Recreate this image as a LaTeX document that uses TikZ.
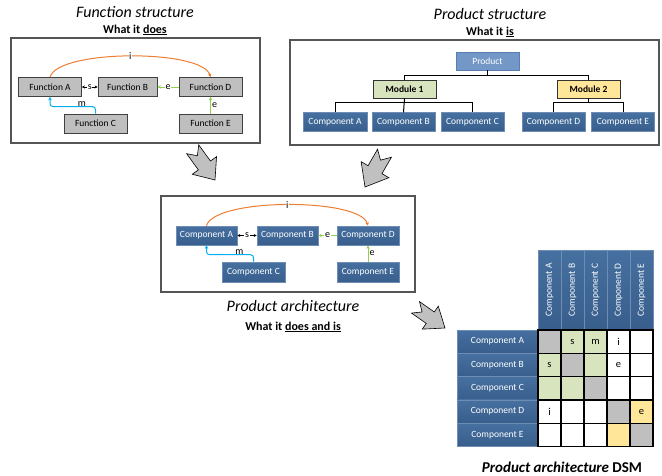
\documentclass[tikz,border=0pt]{standalone}
\usepackage{fontspec}
\setmainfont{Carlito}
\usetikzlibrary{arrows.meta,calc}
\definecolor{orangeL}{RGB}{237,125,49}
\definecolor{greenL}{RGB}{146,208,80}
\definecolor{blueL}{RGB}{0,176,240}
\definecolor{compBlue}{RGB}{56,94,140}
\definecolor{compTop}{RGB}{70,112,160}
\definecolor{compEdge}{RGB}{110,140,180}
\definecolor{prodBlue}{RGB}{115,152,200}
\definecolor{prodEdge}{RGB}{90,125,175}
\definecolor{modGreen}{RGB}{215,228,189}
\definecolor{modYellow}{RGB}{255,230,153}
\definecolor{cellGray}{RGB}{191,191,191}
\definecolor{frameGray}{RGB}{85,85,85}
\definecolor{arrGray}{RGB}{192,192,192}
\newcommand{\notchedarrow}[7]{%
  \draw[blockarrow, shift={(#1,#2)}, rotate=#3]
    (0pt,0pt) -- (-#5pt,#6pt) -- (-#5pt,#7pt) -- (-#4pt,#7pt)
    -- ({(-#4+8)*1pt},0pt) -- (-#4pt,-#7pt) -- (-#5pt,-#7pt) -- (-#5pt,-#6pt) -- cycle;}
\begin{document}
\begin{tikzpicture}[x=1pt,y=-1pt,
  every node/.style={inner sep=0pt},
  boxfont/.style={font=\fontsize{9.5}{11}\selectfont},
  tip/.style={-{Stealth[length=3.5pt,width=3.5pt]}},
  fbox/.style={boxfont, draw=black!75, fill=cellGray, line width=0.8pt, minimum width=63pt, minimum height=19pt},
  cbox/.style={boxfont, draw=compEdge, top color=compTop, bottom color=compBlue, line width=0.6pt, minimum width=62pt, minimum height=18.5pt, text=white},
  mbox/.style={font=\fontsize{9.5}{11}\selectfont\bfseries, draw=black!80, line width=0.8pt, minimum width=63pt, minimum height=18pt},
  pbox/.style={boxfont, draw=prodEdge, fill=prodBlue, line width=0.6pt, minimum width=63pt, minimum height=18pt, text=white},
  frame/.style={draw=frameGray, line width=1.2pt},
  labfont/.style={font=\fontsize{10}{11}\selectfont},
  lab/.style={labfont, fill=white, inner sep=0.6pt},
  iline/.style={draw=orangeL, line width=1pt},
  eline/.style={draw=greenL, line width=1pt},
  mline/.style={draw=blueL, line width=1pt, rounded corners=3pt},
  sline/.style={draw=black, line width=0.8pt},
  tree/.style={draw=black, line width=1pt},
  title/.style={font=\fontsize{16}{19}\selectfont\itshape},
  subtitle/.style={font=\fontsize{12}{14}\selectfont\bfseries},
  blockarrow/.style={draw=black, fill=arrGray, line width=0.6pt, line join=miter},
  head/.style={boxfont, draw=compEdge, top color=compTop, bottom color=compBlue, line width=0.6pt, text=white},
  cell/.style={draw=black, line width=1.2pt, minimum width=23pt, minimum height=23.3pt, font=\fontsize{10.5}{12}\selectfont}
]
\useasboundingbox (0,0) rectangle (662,475);

% ---------- Function structure ----------
\node[title] (t1) at (135,12) {Function structure};
\node[subtitle] (s1) at (135,30) {What it \underline{does}};
\draw[frame] (11,38) rectangle (260,143);
\node[fbox] (fa) at (50,87) {Function A};
\node[fbox, minimum width=59pt] (fb) at (127.5,87) {Function B};
\node[fbox] (fd) at (210.5,87) {Function D};
\node[fbox] (fc) at (95.5,123.5) {Function C};
\node[fbox] (fe) at (210.5,123.5) {Function E};
\draw[iline,tip] (fa.north) .. controls +(8,-28) and +(-8,-28) .. node[lab,pos=0.5]{i} (fd.north);
\draw[sline,{Stealth[length=3pt,width=3pt]}-{Stealth[length=3pt,width=3pt]}] (fa.east) -- node[lab]{s} (fb.west);
\draw[eline,tip] (fd.west) -- node[lab]{e} (fb.east);
\draw[eline,tip] (fe.north) -- node[right=1pt, labfont]{e} (fd.south);
\draw[mline,tip] (fc.north) -- ++(0,-7) -| node[pos=0.15, above=0pt, labfont]{m} (fa.south);

% ---------- Product structure ----------
\node[title] (t2) at (490,14) {Product structure};
\node[subtitle] (s2) at (490,32) {What it \underline{is}};
\draw[frame] (290,40) rectangle (659,145);
\node[pbox] (prod) at (487.5,61) {Product};
\node[mbox, fill=modGreen] (m1) at (404.5,89) {Module 1};
\node[mbox, fill=modYellow] (m2) at (588.5,89) {Module 2};
\node[cbox, minimum width=64pt] (pa) at (335,122) {Component A};
\node[cbox, minimum width=63pt] (pb) at (403.5,122) {Component B};
\node[cbox, minimum width=63pt] (pc) at (472.5,122) {Component C};
\node[cbox, minimum width=63pt] (pd) at (553.5,122) {Component D};
\node[cbox, minimum width=63pt] (pe) at (623,122) {Component E};
\draw[tree] (prod.south) -- ++(0,5) -| (m1.north);
\draw[tree] (prod.south) -- ++(0,5) -| (m2.north);
\draw[tree] (m1.south) -- ++(0,4) -| (pa.north);
\draw[tree] (m1.south) -- (pb.north);
\draw[tree] (m1.south) -- ++(0,4) -| (pc.north);
\draw[tree] (m2.south) -- ++(0,4) -| (pd.north);
\draw[tree] (m2.south) -- ++(0,4) -| (pe.north);

% ---------- block arrows ----------
\notchedarrow{215}{180}{-54}{38}{18}{15}{7.5}
\notchedarrow{365}{187}{-120}{39}{20}{16}{8}
\notchedarrow{445}{328}{-35}{36}{18}{14}{7}

% ---------- Product architecture ----------
\draw[frame] (161,196) rectangle (415,292);
\node[cbox, minimum width=61pt, minimum height=19pt] (ca) at (206.5,235.5) {Component A};
\node[cbox, minimum width=61pt, minimum height=19pt] (cb) at (287.5,235.5) {Component B};
\node[cbox, minimum width=62pt, minimum height=19pt] (cd) at (368,235.5) {Component D};
\node[cbox, minimum width=63pt, minimum height=20pt] (cc) at (253.5,272) {Component C};
\node[cbox, minimum width=62pt, minimum height=20pt] (ce) at (368,272) {Component E};
\draw[iline,tip] (ca.north) .. controls +(8,-28) and +(-8,-28) .. node[lab,pos=0.5]{i} (cd.north);
\draw[sline,{Stealth[length=3pt,width=3pt]}-{Stealth[length=3pt,width=3pt]}] (ca.east) -- node[lab]{s} (cb.west);
\draw[eline,tip] (cd.west) -- node[lab]{e} (cb.east);
\draw[eline,tip] (ce.north) -- node[right=1pt, labfont]{e} (cd.south);
\draw[mline,tip] (cc.north) -- ++(0,-7) -| node[pos=0.15, above=0pt, labfont]{m} (ca.south);
\node[title] (t3) at (293,306) {Product architecture};
\node[subtitle] (s3) at (293,327) {What it \underline{does and is}};

% ---------- DSM ----------
\foreach \r [count=\i from 0] in {A,B,C,D,E} {
  \node[head, minimum width=81pt, minimum height=23.3pt] (rh\r) at (497.5,{341.65+23.3*\i}) {Component \r};
  \node[head, rotate=90, minimum width=80pt, minimum height=23pt] (ch\r) at ({549.5+23*\i},290) {Component \r};
}
\foreach \f/\t [count=\j from 0] in {cellGray/{},modGreen/s,modGreen/m,white/i,white/{}}
  \node[cell, fill=\f] (cA\j) at ({549.5+23*\j},341.65) {\t};
\foreach \f/\t [count=\j from 0] in {modGreen/s,cellGray/{},modGreen/{},white/e,white/{}}
  \node[cell, fill=\f] (cB\j) at ({549.5+23*\j},364.95) {\t};
\foreach \f/\t [count=\j from 0] in {modGreen/{},modGreen/{},cellGray/{},white/{},white/{}}
  \node[cell, fill=\f] (cC\j) at ({549.5+23*\j},388.25) {\t};
\foreach \f/\t [count=\j from 0] in {white/i,white/{},white/{},cellGray/{},modYellow/e}
  \node[cell, fill=\f] (cD\j) at ({549.5+23*\j},411.55) {\t};
\foreach \f/\t [count=\j from 0] in {white/{},white/{},white/{},modYellow/{},cellGray/{}}
  \node[cell, fill=\f] (cE\j) at ({549.5+23*\j},434.85) {\t};
\node[font=\fontsize{15}{18}\selectfont\bfseries] (t4) at (562,467) {\textit{Product architecture} DSM};
\end{tikzpicture}
\end{document}
